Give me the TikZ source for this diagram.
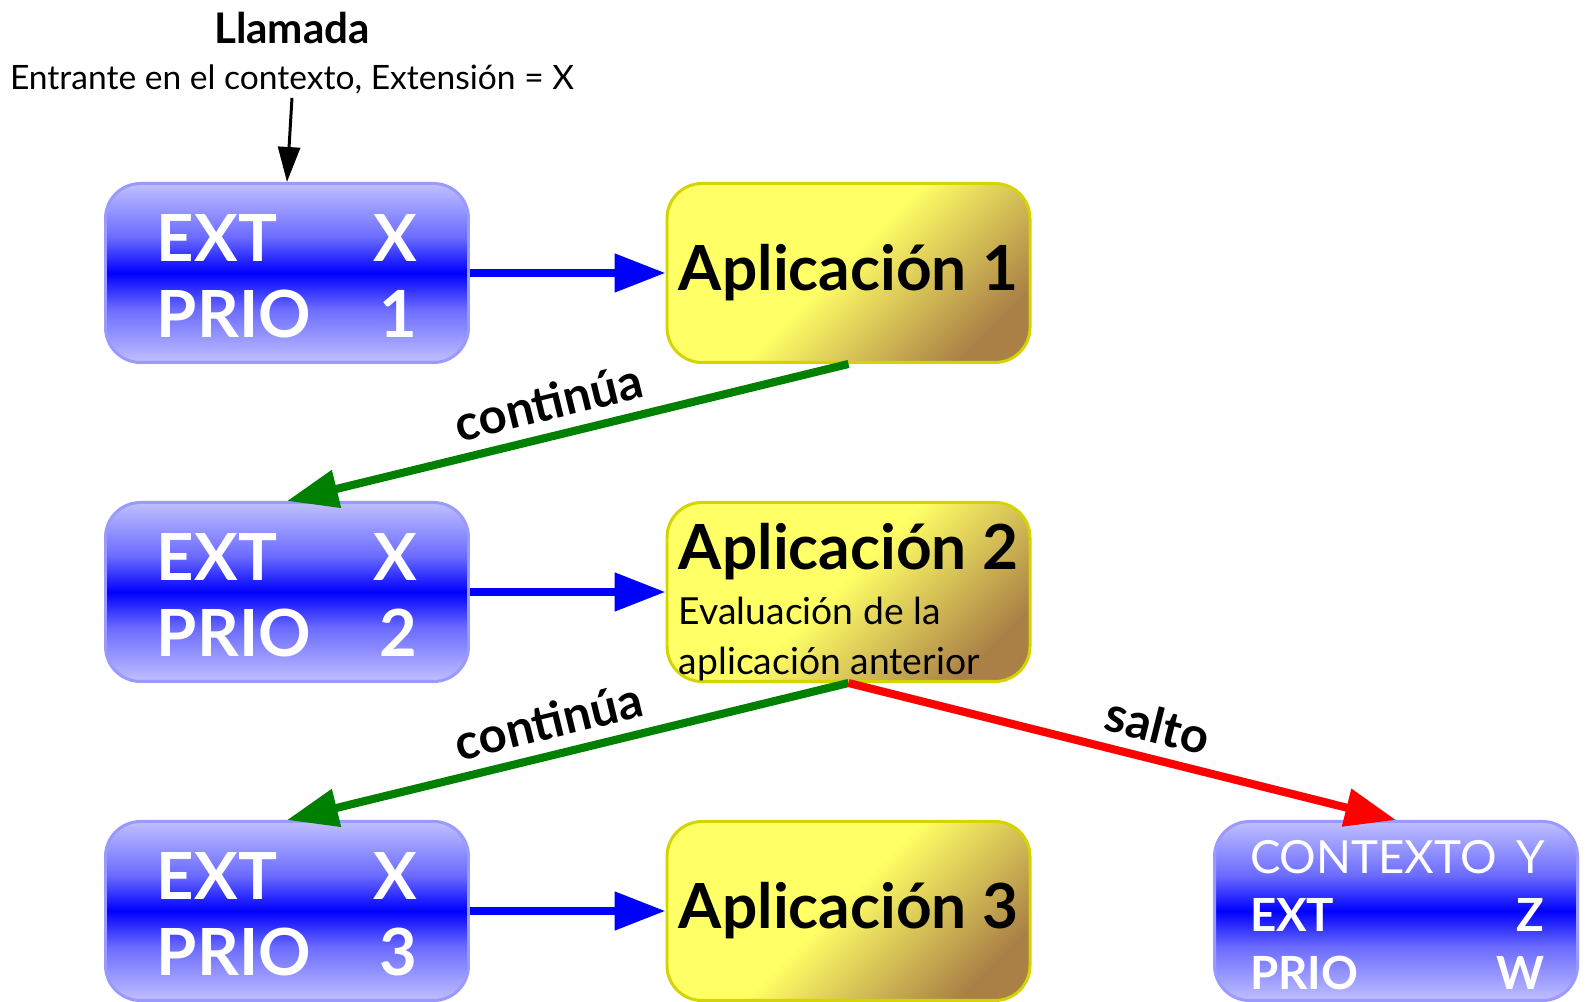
\documentclass[tikz,border=0pt]{standalone}
\usepackage{fontspec}
\setmainfont{Lato}
\usepackage{tikz}
\usetikzlibrary{positioning}
\usetikzlibrary{arrows.meta}

\definecolor{extborder}{RGB}{153,153,255}
\definecolor{appyellow}{RGB}{255,255,102}
\definecolor{appbrown}{RGB}{170,128,70}
\definecolor{appborder}{RGB}{212,212,0}
\definecolor{contgreen}{RGB}{0,128,0}

\pgfdeclareverticalshading{extshading}{100bp}{color(0bp)=(blue!25); color(25bp)=(blue!25); color(40bp)=(blue!58); color(50bp)=(blue); color(60bp)=(blue!58); color(75bp)=(blue!25); color(100bp)=(blue!25)}
\pgfdeclarehorizontalshading{appshading}{100bp}{color(0bp)=(appyellow); color(48bp)=(appyellow); color(76bp)=(appbrown); color(100bp)=(appbrown)}

\newcommand{\extprio}[3]{\begin{tabular*}{#1}[b]{@{}l@{\extracolsep{\fill}}r@{}}EXT & #2\\ PRIO & #3\end{tabular*}}

\begin{document}
\begin{tikzpicture}[node distance=3.19cm and 5.615cm,on grid,
    extbox/.style={rectangle,rounded corners=0.35cm,draw=extborder,line width=0.85pt,
      shading=extshading,
      minimum width=3.63cm,minimum height=1.79cm,inner sep=0pt,text=white,text depth=0pt,
      font=\bfseries\fontsize{18.5}{21.6}\selectfont},
    appbox/.style={rectangle,rounded corners=0.35cm,draw=appborder,line width=0.85pt,
      shading=appshading,shading angle=-45,
      minimum width=3.63cm,minimum height=1.79cm,inner sep=0pt,
      font=\bfseries\fontsize{17.7}{20}\selectfont},
    flow/.style={line width=2.3pt,-{Triangle[length=5.1mm,width=3.7mm]}},
    callarrow/.style={line width=0.85pt,-{Triangle[length=3.5mm,width=2.2mm]}},
    label/.style={font=\bfseries\fontsize{14}{16}\selectfont,above,sloped,text=black}]
  % \draw[help lines] (0,0) grid (15,10);
  \useasboundingbox (0,0) rectangle (15.87,10.02);

  \node[extbox] (ext1) at (2.87,7.29) {\extprio{2.6cm}{X}{1}};
  \node[appbox] (app1) [right=of ext1] {Aplicación 1};
  \node[extbox] (ext2) [below=of ext1] {\extprio{2.6cm}{X}{2}};
  \node[appbox,align=left,font=\mdseries\fontsize{10.6}{14.2}\selectfont] (app2) [right=of ext2]
    {\rule{0pt}{19pt}{\bfseries\fontsize{17.7}{20}\selectfont Aplicación 2}\\[1.5pt]
     Evaluación de la\\
     aplicación anterior};
  \node[extbox] (ext3) [below=of ext2] {\extprio{2.6cm}{X}{3}};
  \node[appbox] (app3) [right=of ext3] {Aplicación 3};
  \node[extbox,font=\bfseries\fontsize{13}{16.6}\selectfont] (ctx) [right=5.475cm of app3]
    {\begin{tabular*}{2.92cm}[b]{@{}l@{\extracolsep{\fill}}r@{}}
      \mdseries CONTEXTO & \mdseries Y\\ EXT & Z\\ PRIO & W
     \end{tabular*}};
  \node[align=center,inner sep=1pt,font=\fontsize{9.55}{12.9}\selectfont] (llamada) [above=2.2cm of ext1,xshift=0.5mm]
    {{\bfseries\fontsize{12}{12.9}\selectfont Llamada}\\ Entrante en el contexto, Extensión = X};

  \draw[callarrow] (llamada.south) -- (ext1.north);

  \path[flow,blue] (ext1) edge (app1)
                   (ext2) edge (app2)
                   (ext3) edge (app3);
  \path[flow,contgreen] (app1.south) edge node[label,pos=0.52] {continúa} (ext2.north)
                        (app2.south) edge node[label,pos=0.52] {continúa} (ext3.north);
  \path[flow,red] (app2.south) edge node[label,pos=0.55] {salto} (ctx.north);
\end{tikzpicture}
\end{document}
